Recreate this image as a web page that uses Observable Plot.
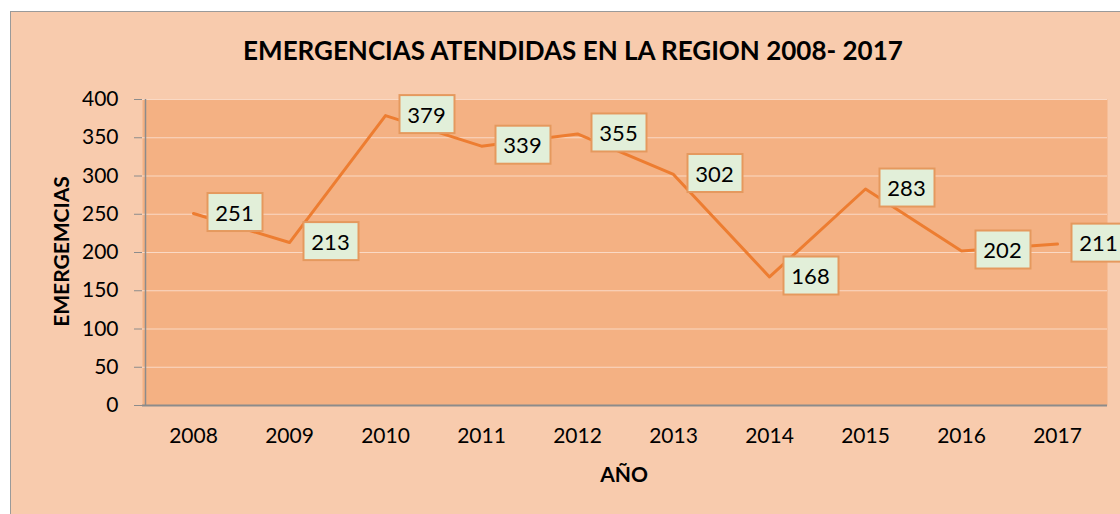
<!DOCTYPE html>
<html><head><meta charset="utf-8">
<script src="https://cdn.jsdelivr.net/npm/d3@7"></script>
<script src="https://cdn.jsdelivr.net/npm/@observablehq/plot@0.6"></script>
<style>
html,body{margin:0;padding:0;background:#fff;overflow:hidden;}
#wrap{position:relative;width:1120px;height:514px;}
#frame{position:absolute;left:10px;top:11px;width:1120px;height:520px;background:#F8CBAD;border:1.5px solid #9a9a9a;box-sizing:border-box;}
#chart{position:absolute;left:0;top:0;}
.t{position:absolute;font-family:Lato,"Open Sans",sans-serif;font-weight:bold;color:#000;white-space:nowrap;}
</style></head>
<body>
<div id="wrap"><div id="frame"></div><div id="chart"></div>
<div class="t" id="title" style="left:0;width:1146px;top:34px;text-align:center;font-size:26px;">EMERGENCIAS ATENDIDAS EN LA REGION 2008- 2017</div>
<div class="t" id="xl" style="left:524px;width:200px;top:461px;text-align:center;font-size:21px;">AÑO</div>
<div class="t" id="yl" style="left:-40px;width:200px;top:239px;text-align:center;font-size:21px;transform:rotate(-90deg);">EMERGEMCIAS</div>
</div>
<script>
const years = ["2008","2009","2010","2011","2012","2013","2014","2015","2016","2017"];
const values = [251,213,379,339,355,302,168,283,202,211];
const yTicks = [0,50,100,150,200,250,300,350,400];

const data = years.map((y,i)=>({year:y, value:values[i]}));
const font = 'Lato, "Open Sans", sans-serif';

const plot = Plot.plot({
  width:1120, height:514,
  marginLeft:142, marginRight:13, marginTop:99, marginBottom:109,
  style:{background:"transparent", fontFamily:font, fontSize:"21px", color:"#000"},
  x:{type:"point", domain:years, padding:0.5, label:null},
  y:{domain:[0,400], label:null},
  marks:[
    Plot.frame({fill:"#F4B183", stroke:null}),
    Plot.gridY(yTicks, {stroke:"#FAD9C4", strokeOpacity:1, strokeWidth:1.2}),
    Plot.axisY({ticks:yTicks, tickSize:8, tickPadding:16, stroke:"#8c8c8c", fontSize:21, label:null}),
    Plot.ruleX([0], {x:()=>years[0], dx:-48, y1:0, y2:400, stroke:"#8c8c8c", strokeWidth:1.5}),
    Plot.ruleY([0], {stroke:"#8c8c8c", strokeWidth:2}),
    Plot.axisX({tickSize:0, tickPadding:23, fontSize:21, label:null}),
    Plot.line(data, {x:"year", y:"value", stroke:"#ED7D31", strokeWidth:3}),
    Plot.text(data, {x:"year", y:"value", text:d=>String(d.value), dx:41, fontSize:22, fill:"#000", className:"lbl"})
  ]
});
document.getElementById("chart").appendChild(plot);

// add boxes behind labels
const svgNS="http://www.w3.org/2000/svg";
plot.querySelectorAll(".lbl text").forEach(t=>{
  const b=t.getBBox();
  const cx=b.x+b.width/2, cy=b.y+b.height/2;
  const r=document.createElementNS(svgNS,"rect");
  r.setAttribute("x",cx-27); r.setAttribute("y",cy-19);
  r.setAttribute("width",55); r.setAttribute("height",38);
  r.setAttribute("fill","#E2EFD9"); r.setAttribute("stroke","#E5995E"); r.setAttribute("stroke-width","2");
  if(t.getAttribute("transform")) r.setAttribute("transform",t.getAttribute("transform"));
  t.parentNode.insertBefore(r,t);
});
</script>
</body></html>
